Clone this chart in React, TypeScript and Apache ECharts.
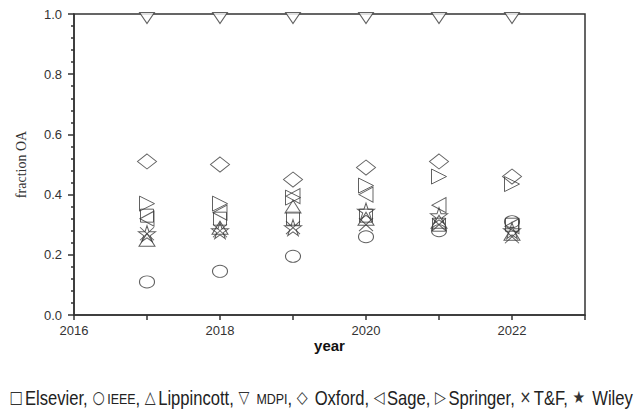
import React, { useEffect, useRef } from "react";
import * as echarts from "echarts";

const years = [2017, 2018, 2019, 2020, 2021, 2022];
const yTicks = [0, 0.2, 0.4, 0.6, 0.8, 1.0];
const xLabelYears = [2016, 2018, 2020, 2022];

const elsevier = [0.33, 0.32, 0.32, 0.33, 0.30, 0.30];
const ieee = [0.11, 0.145, 0.195, 0.26, 0.28, 0.31];
const lippincott = [0.25, 0.29, 0.36, 0.32, 0.31, 0.27];
const mdpi = [1.0, 1.0, 1.0, 1.0, 1.0, 1.0];
const oxford = [0.51, 0.50, 0.45, 0.49, 0.51, 0.46];
const sage = [0.32, 0.34, 0.395, 0.40, 0.365, 0.295];
const springer = [0.37, 0.37, 0.39, 0.43, 0.46, 0.435];
const tf = [0.27, 0.28, 0.29, 0.30, 0.30, 0.26];
const wiley = [0.27, 0.28, 0.29, 0.345, 0.33, 0.28];

const STAR =
  "path://M50,0L61.8,35.5L99,35.5L69,57.5L80.4,93L50,71L19.6,93L31,57.5L1,35.5L38.2,35.5Z";
const CROSS = "path://M0,0L10,10M10,0L0,10";
const LEFT_TRI = "path://M0,5L10,0L10,10Z";
const RIGHT_TRI = "path://M10,5L0,0L0,10Z";
const DOWN_TRI = "path://M0,0L10,0L5,10Z";
const UP_TRI = "path://M0,10L10,10L5,0Z";

export default function App() {
  const ref = useRef<HTMLDivElement>(null);
  useEffect(() => {
    document.body.style.margin = "0";
    const chart = echarts.init(ref.current!, null, { renderer: "svg" });
    const mk = (name: string, data: number[], symbol: string, size: any, extra: any = {}) => ({
      type: "scatter",
      name,
      data: years.map((y, i) => [y, data[i]]),
      symbol,
      symbolSize: size,
      itemStyle: { color: "transparent", borderColor: "#3a3a3a", borderWidth: 1 },
      z: 3,
      ...extra,
    });
    chart.setOption({
      animation: false,
      backgroundColor: "#fff",
      grid: {
        left: 74,
        right: 59,
        top: 14,
        bottom: 97,
        show: true,
        borderColor: "#333",
        borderWidth: 1.5,
      },
      xAxis: {
        type: "value",
        min: 2016,
        max: 2023,
        interval: 1,
        name: "year",
        nameLocation: "middle",
        nameGap: 23,
        nameMoveOverlap: false,
        nameTextStyle: { fontFamily: "Liberation Sans", fontWeight: "bold", fontSize: 15, color: "#111" },
        axisLine: { show: true, lineStyle: { color: "#333", width: 1.5 } },
        axisTick: { show: true, length: 5, lineStyle: { color: "#333", width: 1.5 } },
        axisLabel: {
          fontFamily: "Liberation Sans",
          fontSize: 13,
          color: "#333",
          margin: 9,
          formatter: (v: number) => (xLabelYears.includes(Math.round(v)) ? String(Math.round(v)) : ""),
        },
        splitLine: { show: false },
      },
      yAxis: {
        type: "value",
        min: yTicks[0],
        max: yTicks[yTicks.length - 1],
        interval: 0.2,
        name: "fraction OA",
        nameLocation: "middle",
        nameGap: 46,
        nameTextStyle: { fontFamily: "Liberation Serif", fontSize: 14, color: "#333" },
        axisLine: { show: true, lineStyle: { color: "#333", width: 1.5 } },
        axisTick: { show: true, length: 6, lineStyle: { color: "#333", width: 1.5 } },
        minorTick: { show: true, splitNumber: 5, length: 3, lineStyle: { color: "#333", width: 1.5 } },
        axisLabel: {
          fontFamily: "Liberation Sans",
          fontSize: 13,
          color: "#333",
          margin: 12,
          formatter: (v: number) => v.toFixed(1),
        },
        splitLine: { show: false },
      },
      series: [
        mk("Elsevier", elsevier, "rect", [13, 13]),
        mk("IEEE", ieee, "circle", [15, 12]),
        mk("Lippincott", lippincott, UP_TRI, [16, 13]),
        mk("MDPI", mdpi, DOWN_TRI, [15, 11], { symbolOffset: [0, 4], itemStyle: { color: "#fff", borderColor: "#3a3a3a", borderWidth: 1 } }),
        mk("Oxford", oxford, "diamond", [19, 15]),
        mk("Sage", sage, LEFT_TRI, [14, 15]),
        mk("Springer", springer, RIGHT_TRI, [15, 15]),
        mk("T&F", tf, CROSS, [14, 13]),
        mk("Wiley", wiley, STAR, [17, 16]),
      ],
      graphic: [
        {
          type: "text",
          x: 321,
          y: 398,
          scaleX: 0.83,
          style: {
            text:
              "{s|□}Elsevier, {s|○}{sm|IEEE}, {s|△}Lippincott, {s|▽} {sm|MDPI}, {s|◇} Oxford, {s|◁}Sage, {s|▷}Springer, {s|×}T&F, {s|★} Wiley",
            fontFamily: "Liberation Sans, sans-serif",
            fontSize: 20,
            lineHeight: 24,
            fill: "#222",
            align: "center",
            verticalAlign: "middle",
            rich: {
              s: { fontFamily: "DejaVu Sans", fontSize: 17, lineHeight: 24, fill: "#333", padding: [0, 3, 0, 0] },
              sm: { fontFamily: "Liberation Sans, sans-serif", fontSize: 15, lineHeight: 24, fill: "#222", padding: [3, 0, 0, 0] },
            },
          },
        },
      ],
    });
    return () => chart.dispose();
  }, []);
  return <div ref={ref} style={{ width: 644, height: 412 }} />;
}
